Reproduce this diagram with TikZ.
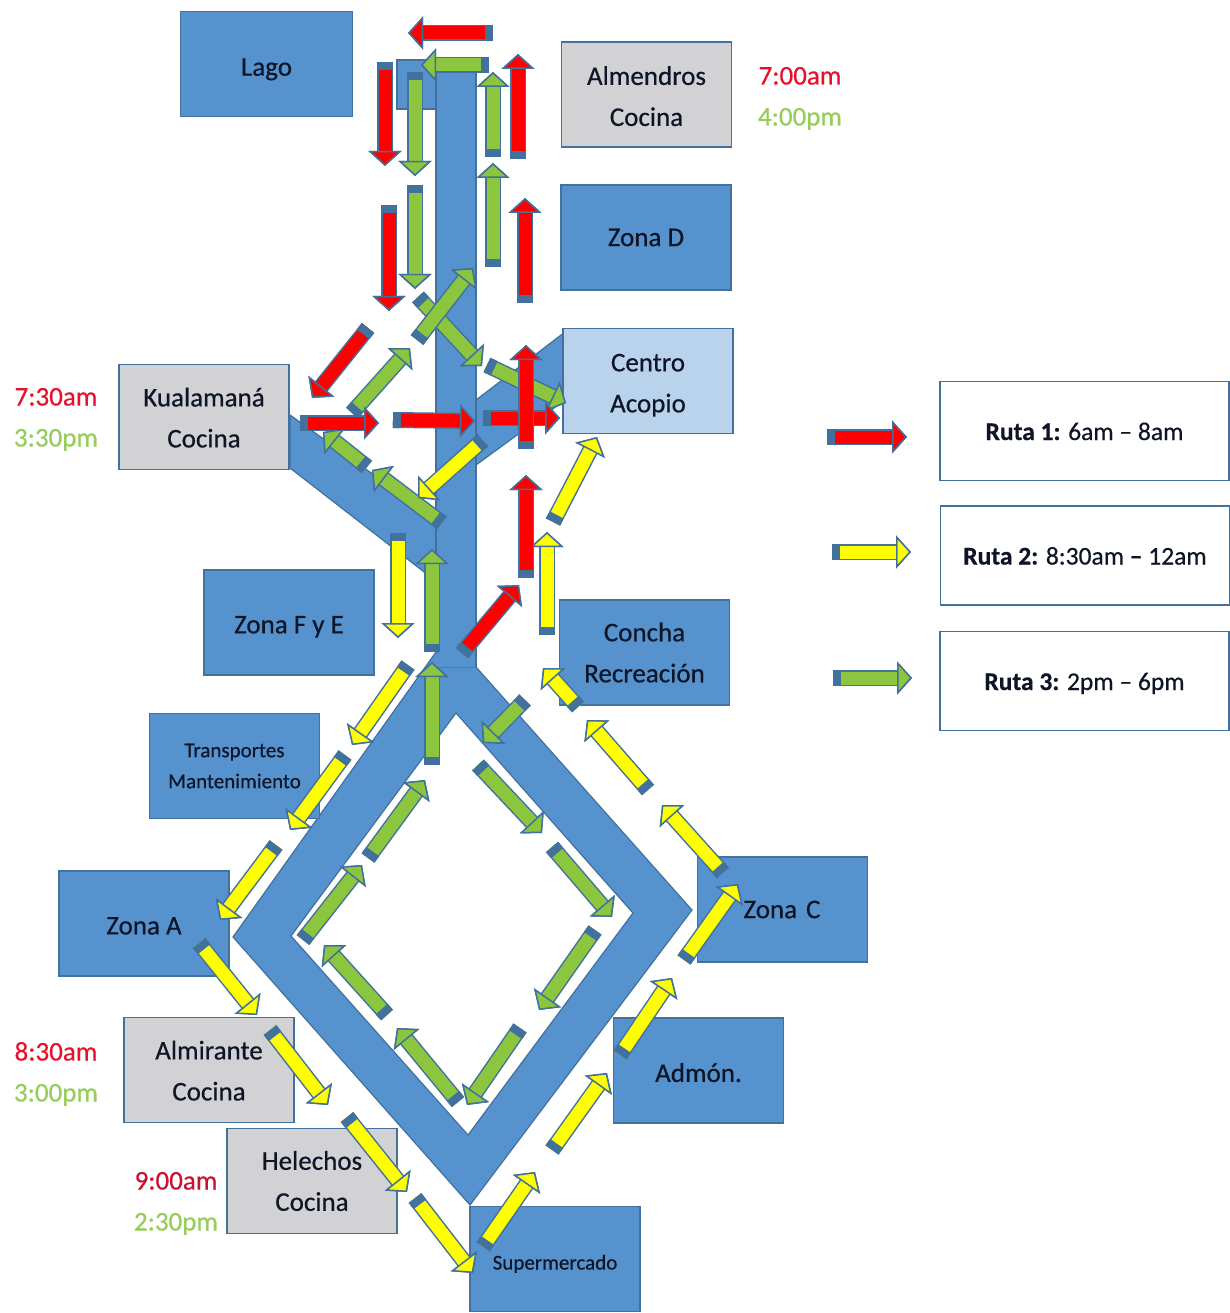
\documentclass[tikz,border=0pt]{standalone}
\usepackage{fontspec}
\setmainfont{Carlito}[FakeBold=0.5]
\usepackage{xcolor}
\definecolor{roadBlue}{HTML}{5692CE}
\definecolor{edgeBlue}{HTML}{41719C}
\definecolor{paleBlue}{HTML}{B9D3EC}
\definecolor{softGray}{HTML}{D2D2D4}
\definecolor{routeRed}{HTML}{FF0000}
\definecolor{routeYellow}{HTML}{FFFF00}
\definecolor{routeGreen}{HTML}{8CC63F}
\definecolor{timeRed}{HTML}{E8112D}
\definecolor{timeDarkRed}{HTML}{CC1030}
\definecolor{timeGreen}{HTML}{96CC5A}
\definecolor{darkText}{HTML}{0D1526}
\usetikzlibrary{
    arrows.meta,
    calc
}
\tikzset{
    % Base style for all boxes
    place base/.style={
        rectangle,
        align=center,
        text=darkText,
        font=\fontsize{27}{41}\selectfont,
        draw=edgeBlue,
        line width=1.8pt,
        inner sep=0pt,
        minimum width=170pt,
        minimum height=105pt,
    },
    % Zones - plain blue
    zone/.style={place base, fill=roadBlue},
    % Kitchens - gray
    kitchen/.style={place base, fill=softGray},
    % Collection centre - pale blue
    depot/.style={place base, fill=paleBlue},
    % Legend boxes
    legend/.style={
        place base,
        fill=white,
        font=\fontsize{25.5}{30}\selectfont,
        text height=18pt,
        text depth=0pt,
        minimum width=289pt,
        minimum height=99pt,
    },
    % Times next to the kitchens
    timelabel/.style={
        font=\fontsize{27}{30}\selectfont,
        inner sep=0pt,
        text height=17pt,
        text depth=0pt,
    },
    % The road itself
    road/.style={fill=roadBlue, draw=edgeBlue, line width=1.2pt, line join=miter},
    % Block arrow, the argument is its colour
    route/.style={
        line width=13pt,
        draw=#1,
        -{Triangle[length=15pt, width=33pt, color=edgeBlue, fill=#1, line width=1.5pt]},
        preaction={draw=edgeBlue, line width=16pt},
    },
    % Dark end of a block arrow
    route tail/.style={draw=edgeBlue, line width=16pt},
}
% Block arrow from one named end to the other, with its dark tail
\newcommand{\routearrow}[4]{%
    \coordinate (#2 from) at (#3);
    \coordinate (#2 to) at (#4);
    \draw [route=#1] (#2 from) -- (#2 to);
    \draw [route tail] (#2 from) -- ($(#2 from)!8pt!(#2 to)$);
}
% Taller first line, pushes the text of a box down
\newcommand{\drop}[1]{\rule{0pt}{#1pt}}
\begin{document}
\begin{tikzpicture}[x=1pt, y=-1pt]
    \useasboundingbox (0,0) rectangle (1230,1313);

    % Roads
    \draw [road] (397,60) rectangle (437,109);
    \draw [road] (290,415) -- (437,520) -- (437,582) -- (290,468) -- cycle;
    \draw [road] (476,400) -- (565,332) -- (565,400) -- (476,465) -- cycle;
    \draw [road] (436,72) rectangle (476,668);
    \draw [road, even odd rule] (436,652) -- (476,667) -- (692,910) -- (470,1205) -- (233,937) -- cycle
        (456,713) -- (291,936) -- (468,1135) -- (633,913) -- cycle;
    \fill [roadBlue] (437.5,640) rectangle (475,666.5);
    \draw [edgeBlue!60!roadBlue] (437,667) -- (476,667);

    % Places
    \node (lago) [zone, minimum width=172pt] at (266.5,64) {\drop{28}Lago};
    \node (almendros) [kitchen] at (646.5,94.5) {\drop{22}Almendros\\Cocina};
    \node (zonaD) [zone] at (646,237.5) {Zona D};
    \node (acopio) [depot] at (648,381) {\drop{26}Centro\\Acopio};
    \node (kualamana) [kitchen] at (204,417) {\drop{20}Kualamaná\\Cocina};
    \node (zonaFE) [zone] at (289,622.5) {\drop{26}Zona F y E};
    \node (concha) [zone] at (644.5,652.5) {Concha\\Recreación};
    \node (transportes) [zone, font=\fontsize{21}{31}\selectfont] at (234.5,766) {Transportes\\Mantenimiento};
    \node (zonaA) [zone] at (144,923.5) {\drop{22}Zona A};
    \node (zonaC) [zone, text width=78pt, align=left] at (782.5,909.5) {Zona C};
    \node (almirante) [kitchen] at (209,1070) {\drop{20}Almirante\\Cocina};
    \node (admon) [zone] at (698.5,1070.5) {\drop{23}Admón.};
    \node (helechos) [kitchen] at (312,1181) {\drop{18}Helechos\\Cocina};
    \node (super) [zone, font=\fontsize{21}{25}\selectfont, text depth=0pt] at (555,1259) {\drop{21}Supermercado};

    % Times
    \node (t700) [timelabel, text=timeRed] at (800,76) {7:00am};
    \node (t400) [timelabel, text=timeGreen] at (800,117) {4:00pm};
    \node (t730) [timelabel, text=timeRed] at (56,397) {7:30am};
    \node (t330) [timelabel, text=timeGreen] at (56,438) {3:30pm};
    \node (t830) [timelabel, text=timeRed] at (56,1052) {8:30am};
    \node (t300) [timelabel, text=timeGreen] at (56,1093) {3:00pm};
    \node (t900) [timelabel, text=timeDarkRed] at (176,1181) {9:00am};
    \node (t230) [timelabel, text=timeGreen] at (176,1222) {2:30pm};

    % Legend
    \node (ruta1) [legend] at (1084.5,431) {\textbf{Ruta 1:} 6am -- 8am};
    \node (ruta2) [legend] at (1085,555.5) {\textbf{Ruta 2:} 8:30am \textbf{--} 12am};
    \node (ruta3) [legend] at (1084.5,681) {\textbf{Ruta 3:} 2pm -- 6pm};
    \routearrow{routeRed}{keyA}{827,437}{907,437}
    \routearrow{routeYellow}{keyB}{832,552}{911,552}
    \routearrow{routeGreen}{keyC}{833,678}{912,678}

    % Route 3
    \foreach \ax/\ay/\bx/\by [count=\n] in {
        489/65/421/65, 415/72/415/176, 415/185/415/289, 493/157/493/72, 493/267/493/163,
        418/297/482/366, 417/340/473/268, 352/413/410/348, 487/365/566/403,
        367/467/323/432, 442/523/372/470, 432/652/432/549, 432/765/432/662,
        525/700/483/743, 478/765/542/833, 552/847/612/917, 595/930/539/1010, 520/1028/467/1105,
        458/1102/397/1028, 387/1015/324/945, 303/940/362/865, 368/858/425/780} {
        \routearrow{routeGreen}{green\n}{\ax,\ay}{\bx,\by}
    }

    % Route 2
    \foreach \ax/\ay/\bx/\by [count=\n] in {
        483/440/418/498, 398/533/398/638, 408/665/352/745, 345/755/290/830, 276/845/220/920,
        199/943/257/1015, 270/1030/328/1105, 347/1117/407/1192, 415/1198/473/1273,
        483/1247/535/1172, 552/1150/607/1073, 620/1055/672/978, 684/960/738/884,
        723/873/662/805, 648/790/587/720, 578/707/543/668, 547/635/547/532, 553/522/597/437} {
        \routearrow{routeYellow}{yellow\n}{\ax,\ay}{\bx,\by}
    }

    % Route 1
    \foreach \ax/\ay/\bx/\by [count=\n] in {
        462/653/519/585, 526/578/526/475, 300/423/379/423, 393/420/475/421, 483/418/560/418,
        526/449/526/345, 525/303/525/198, 518/159/518/54, 493/33/408/33, 385/62/385/166,
        389/205/389/311, 368/328/312/398} {
        \routearrow{routeRed}{red\n}{\ax,\ay}{\bx,\by}
    }
\end{tikzpicture}
\end{document}
